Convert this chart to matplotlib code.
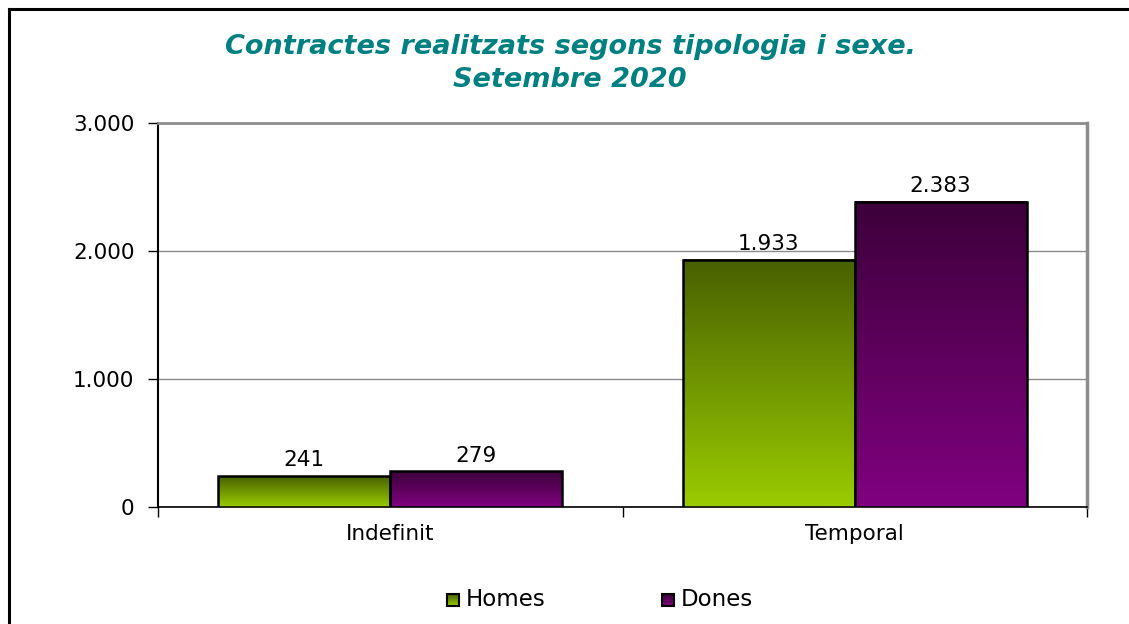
import matplotlib
matplotlib.use("Agg")
import matplotlib.pyplot as plt
import numpy as np
from matplotlib.colors import LinearSegmentedColormap
from matplotlib.lines import Line2D

categories = ["Indefinit", "Temporal"]
series_names = ["Homes", "Dones"]
homes = [241, 1933]
dones = [279, 2383]
yticks = [0, 1000, 2000, 3000]
ytick_labels = ["0", "1.000", "2.000", "3.000"]
value_labels_homes = ["241", "1.933"]
value_labels_dones = ["279", "2.383"]

plt.rcParams['font.family'] = ['DejaVu Sans']

fig = plt.figure(figsize=(11.29, 6.24), dpi=100)
W, H = 1129, 624
ax = fig.add_axes([158 / W, 1 - 507 / H, (1087 - 158) / W, (507 - 123) / H])

cmap_h = LinearSegmentedColormap.from_list("h", ["#9acc00", "#486000"])
cmap_d = LinearSegmentedColormap.from_list("d", ["#800080", "#3c003a"])
grad = np.linspace(0, 1, 256).reshape(-1, 1)

bw = 0.37
x = np.arange(len(categories))
FS = 15.5

ax.set_xlim(-0.5, 1.5)
ax.set_ylim(0, 3000)

for vals, labels, cmap, off in [(homes, value_labels_homes, cmap_h, -bw / 2),
                                 (dones, value_labels_dones, cmap_d, bw / 2)]:
    bars = ax.bar(x + off, vals, width=bw, facecolor="none", edgecolor="black",
                  linewidth=1.8, zorder=4)
    for b, lab in zip(bars, labels):
        x0, w, h = b.get_x(), b.get_width(), b.get_height()
        ax.imshow(grad, extent=[x0, x0 + w, 0, h], origin="lower", cmap=cmap,
                  aspect="auto", zorder=3, interpolation="bicubic")
        ax.text(x0 + w / 2, h + 45, lab, ha="center", va="bottom", fontsize=FS,
                color="black", zorder=5)

ax.set_xlim(-0.5, 1.5)
ax.set_ylim(0, 3000)
ax.set_yticks(yticks)
ax.set_yticklabels(ytick_labels, fontsize=FS)
ax.yaxis.grid(True, color="#8c8c8c", linewidth=1)
ax.set_axisbelow(True)
ax.tick_params(axis="y", length=7, width=1, direction="out", pad=10)

ax.set_xticks(x)
ax.set_xticklabels(categories, fontsize=FS)
ax.tick_params(axis="x", length=0, pad=12)
ax.set_xticks([-0.5, 0.5, 1.5], minor=True)
ax.tick_params(axis="x", which="minor", length=7, width=1, direction="out")

ax.spines["left"].set_color("black")
ax.spines["left"].set_linewidth(1.5)
ax.spines["bottom"].set_color("black")
ax.spines["bottom"].set_linewidth(1.2)
ax.spines["top"].set_color("#8c8c8c")
ax.spines["top"].set_linewidth(2)
ax.spines["right"].set_color("#8c8c8c")
ax.spines["right"].set_linewidth(2.5)

fig.text(570 / W, 1 - 47 / H, "Contractes realitzats segons tipologia i sexe.",
         ha="center", va="center", fontsize=19.5, fontweight="bold", fontstyle="italic",
         color="#008080")
fig.text(570 / W, 1 - 80 / H, "Setembre 2020",
         ha="center", va="center", fontsize=19.5, fontweight="bold", fontstyle="italic",
         color="#008080")

# Legend with gradient squares
for i, (name, cmap) in enumerate(zip(series_names, [cmap_h, cmap_d])):
    lx = [447, 662][i]
    ly = 600
    sq = fig.add_axes([lx / W, 1 - (ly + 6) / H, 12 / W, 12 / H])
    sq.imshow(grad, cmap=cmap, origin="lower", aspect="auto", extent=[0, 1, 0, 1])
    sq.set_xticks([]); sq.set_yticks([])
    for s in sq.spines.values():
        s.set_linewidth(1.5)
        s.set_color("black")
    fig.text((lx + 19) / W, 1 - ly / H, name, ha="left", va="center", fontsize=16.5,
             color="black")

fig.add_artist(Line2D([9 / W, 9 / W], [0, 1 - 9 / H], transform=fig.transFigure,
                      color="black", linewidth=2.2))
fig.add_artist(Line2D([9 / W, 1], [1 - 9 / H, 1 - 9 / H], transform=fig.transFigure,
                      color="black", linewidth=2.2))

fig.savefig("out.png", dpi=100)
